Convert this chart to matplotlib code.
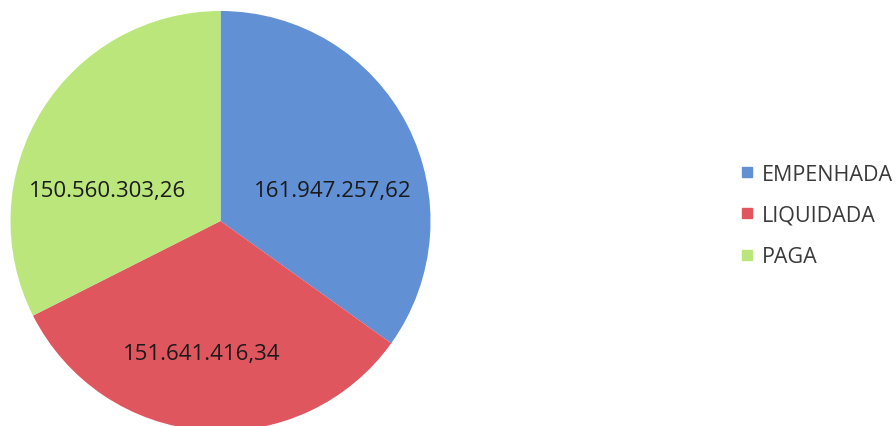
import matplotlib
matplotlib.use('Agg')
import matplotlib.pyplot as plt
from matplotlib.lines import Line2D

categorias = ['EMPENHADA', 'LIQUIDADA', 'PAGA']
valores = [161947257.62, 151641416.34, 150560303.26]
rotulos = ['161.947.257,62', '151.641.416,34', '150.560.303,26']
cores = ['#6190d4', '#e0565e', '#bae67c']

# posicoes dos rotulos (coordenadas do eixo do pie, raio = 1)
pos_rotulos = [(0.536, 0.143), (-0.088, -0.633), (-0.54, 0.143)]

plt.rcParams['font.family'] = ['Open Sans', 'DejaVu Sans']

fig = plt.figure(figsize=(8.96, 4.27), dpi=100)
ax = fig.add_axes([10.5 / 896, -5 / 427, 420 / 896, 420 / 427])

wedges, _ = ax.pie(valores, colors=cores, startangle=90, counterclock=False,
                   radius=1.0, wedgeprops={'linewidth': 0})
for texto, (x, y) in zip(rotulos, pos_rotulos):
    ax.text(x, y, texto, ha='center', va='center', fontsize=16, color='#1a1a1a')
ax.set_xlim(-1, 1)
ax.set_ylim(-1, 1)
ax.set_aspect('equal')
ax.axis('off')

handles = [Line2D([0], [0], marker='s', linestyle='none', markersize=7,
                  markerfacecolor=c, markeredgecolor=c) for c in cores]
fig.legend(handles, categorias, loc='center left', bbox_to_anchor=(741.5 / 896, 1 - 216.5 / 427),
           frameon=False, fontsize=15.5, handletextpad=0.45, labelspacing=0.95,
           handlelength=0.5, borderpad=0, borderaxespad=0, labelcolor='#3a3a3a')

fig.savefig('out.png', dpi=100)
